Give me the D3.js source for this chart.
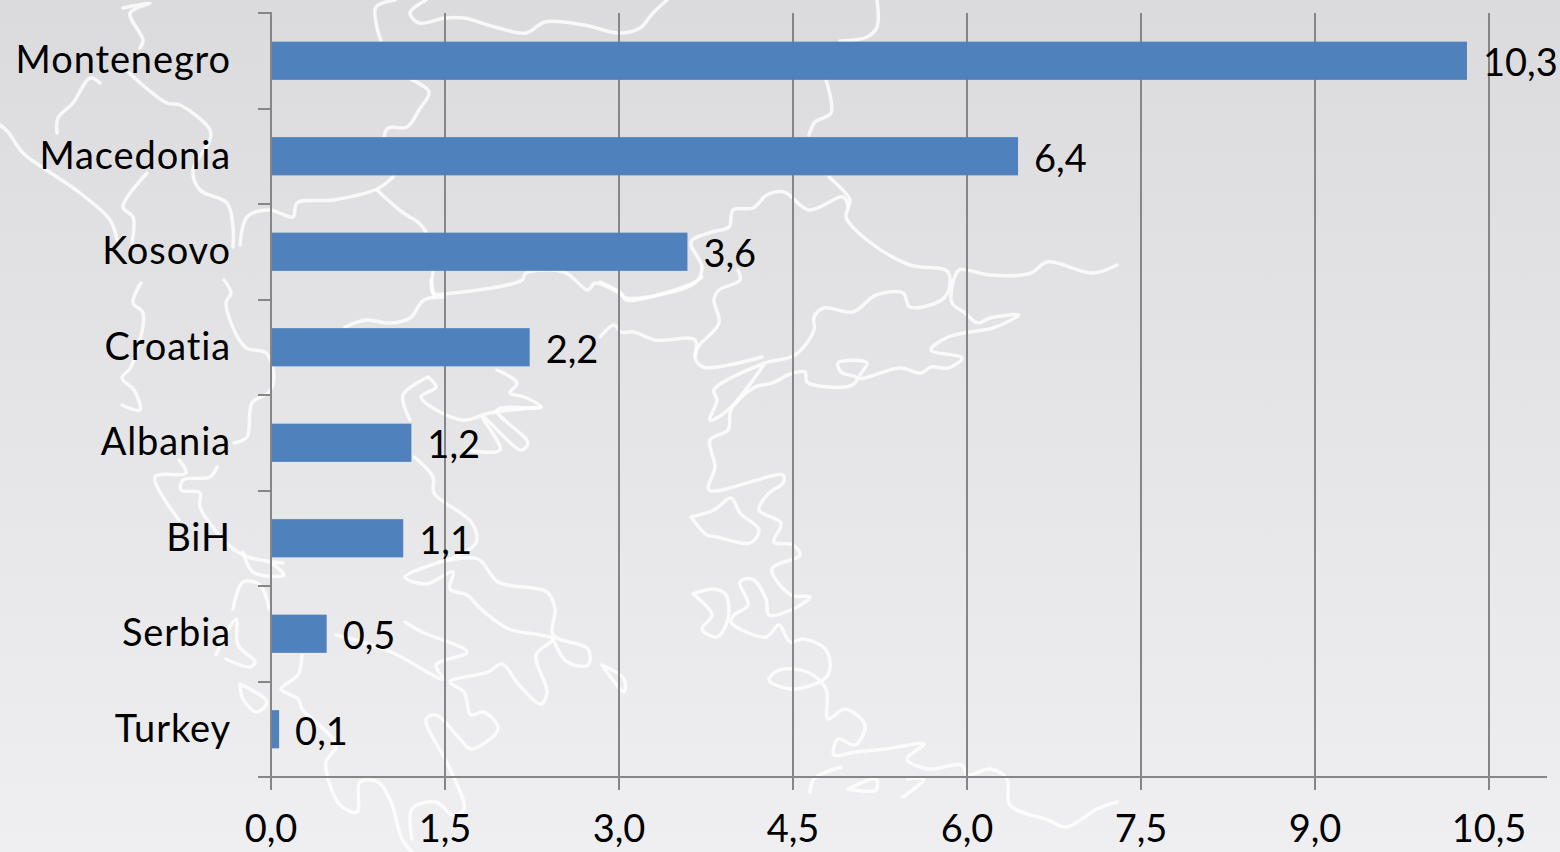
<!DOCTYPE html>
<html>
<head>
<meta charset="utf-8">
<script src="https://d3js.org/d3.v7.min.js"></script>
<style>
  html, body { margin: 0; padding: 0; overflow: hidden; }
  svg { display: block; }
  text { font-family: Lato, "Open Sans", sans-serif; fill: #000; }
  .axis path, .axis line { stroke: #868686; stroke-width: 2; shape-rendering: crispEdges; }
  .grid line { stroke: #868686; stroke-width: 2; shape-rendering: crispEdges; }
  .map path { fill: none; stroke: #fff; stroke-width: 3.5; stroke-opacity: .8; stroke-linejoin: round; stroke-linecap: round; }
</style>
</head>
<body>
<svg id="chart" width="1560" height="852"></svg>
<script>
var categories = ["Montenegro", "Macedonia", "Kosovo", "Croatia", "Albania", "BiH", "Serbia", "Turkey"];
var values = [10.31, 6.44, 3.59, 2.23, 1.21, 1.14, 0.48, 0.07];
var xTicks = [0, 1.5, 3, 4.5, 6, 7.5, 9, 10.5];

// white outline of the region behind the plot, traced by eye
var mapOutlines = [
  [[426,0],[410,13],[419,23],[445,18],[464,18],[495,27],[526,33],[545,22],[584,25],[619,33],[640,28],[653,13],[667,0]],
  [[395,0],[376,7],[376,23],[381,41]],
  [[412,80],[429,92],[419,110],[407,127],[388,128],[384,137]],
  [[393,177],[377,189],[333,200],[297,203],[293,217],[270,210],[247,217],[240,245]],
  [[377,190],[402,212],[419,223],[426,232]],
  [[433,272],[433,293],[453,293],[522,280],[526,273],[564,272],[588,290],[595,283],[619,293],[626,298],[695,283],[702,267],[691,242],[712,232],[729,227],[733,210],[753,208],[767,195],[784,192],[809,210],[843,197],[848,207],[846,217],[867,240],[910,265],[948,272],[945,297],[910,307],[903,293],[876,295],[853,312],[824,308],[814,317],[814,330],[795,355],[765,363],[714,390],[717,400],[710,420],[728,410],[765,363]],
  [[762,357],[703,367],[695,357],[698,347],[719,323],[714,300],[719,290],[740,280],[738,270]],
  [[600,337],[614,325],[621,332],[634,332],[655,340],[695,340],[695,357]],
  [[600,282],[621,293],[626,300],[693,283],[702,277]],
  [[1117,265],[1093,273],[1047,262],[1031,273],[990,275],[967,270],[959,270],[952,287],[952,303],[965,313],[978,323],[990,318],[1019,315],[993,328],[983,330],[948,337],[931,350],[962,358],[948,368],[931,367],[921,373],[900,368],[859,378],[867,363],[838,363],[841,372],[857,378],[852,385],[828,387],[807,382],[805,372],[793,373],[772,383],[755,387],[731,410],[728,430],[710,440],[715,467],[709,490],[783,475],[783,483],[769,493],[759,510],[781,523],[774,542],[793,545],[800,555],[772,569],[791,595],[810,597],[793,609],[769,615],[766,599],[752,579],[740,582],[748,605],[734,615],[731,622],[766,637],[779,625],[790,642],[803,639],[826,650],[828,675],[793,689],[769,680],[779,670],[807,672],[826,689],[828,719],[845,709],[865,725],[855,745],[838,739],[834,755],[855,752],[886,749],[924,744],[907,759],[928,769],[962,765],[967,775],[990,769],[1007,779],[1010,805],[1048,820],[1066,827],[1097,809],[1117,802]],
  [[691,517],[714,510],[731,498],[740,513],[759,530],[750,543],[717,537],[707,535],[691,517]],
  [[693,594],[714,589],[726,595],[728,619],[717,637],[702,629],[712,615],[693,594]],
  [[810,792],[814,779],[841,767]],
  [[848,789],[876,779],[876,790],[848,789]],
  [[903,797],[924,779],[907,779]],
  [[877,0],[877,27],[867,37],[840,41]],
  [[826,80],[831,113],[815,122],[809,135]],
  [[829,177],[850,200],[848,207]],
  [[123,8],[150,3],[130,13],[143,40],[140,48]],
  [[128,72],[167,103],[180,105],[210,130],[210,140],[193,170],[200,190],[227,203],[233,227],[233,247]],
  [[100,83],[90,78],[73,103],[58,118],[57,133]],
  [[0,125],[8,132],[23,153],[57,177],[80,193],[110,220],[117,240]],
  [[147,173],[123,207],[133,217],[132,243]],
  [[141,283],[133,303],[143,313],[131,367],[122,378],[134,390],[140,410],[122,405]],
  [[224,280],[231,293],[226,303],[245,347],[266,353],[274,377],[269,392],[252,403],[247,437],[234,443]],
  [[179,460],[186,473],[155,477],[179,520]],
  [[217,467],[210,477],[183,480],[181,490],[200,493],[200,507],[231,547],[248,557],[283,563]],
  [[445,297],[424,300],[410,318],[390,323],[366,320],[345,327]],
  [[431,280],[434,297]],
  [[428,377],[403,395],[410,420]],
  [[428,377],[436,387],[421,397],[462,420],[490,413],[541,407]],
  [[497,370],[517,383],[510,393],[524,397],[541,407],[497,410],[528,443],[521,450],[483,417],[500,450],[466,450]],
  [[414,457],[433,477],[434,493],[472,523],[476,543],[448,560]],
  [[243,552],[253,572],[284,575],[270,562]],
  [[233,609],[243,582],[260,585],[269,609]],
  [[240,684],[267,702],[257,712],[243,699],[240,684]],
  [[216,655],[236,619],[238,645],[255,662],[250,667],[226,659]],
  [[302,655],[298,675],[281,689],[298,699],[302,709],[336,745],[326,762],[329,782],[340,805],[357,812],[360,782],[378,782],[391,802],[402,839],[412,852]],
  [[412,839],[412,809],[436,802],[453,815],[464,809],[450,769],[426,719],[436,715],[460,739],[471,749],[498,729],[484,712],[471,715],[464,692],[450,682],[488,672],[502,664],[519,685],[541,704],[547,692],[536,655],[553,639],[540,635],[509,629],[481,609],[467,595],[450,589],[453,572],[426,584],[405,577],[440,562]],
  [[440,562],[478,559],[498,582],[547,592],[555,609],[553,635],[588,649],[588,665],[567,662],[553,639]],
  [[602,665],[624,679],[624,692],[602,665]],
  [[336,635],[391,652],[443,679],[436,665],[467,652],[422,632],[405,622]]
];

var margin = { left: 271, top: 13, right: 13, bottom: 75 },
    width = 1560 - margin.left - margin.right,
    height = 852 - margin.top - margin.bottom;

var svg = d3.select("#chart");

var defs = svg.append("defs");

var grad = defs.append("linearGradient")
    .attr("id", "bg")
    .attr("x1", 0).attr("y1", 0).attr("x2", 0).attr("y2", 1);
grad.append("stop").attr("offset", "0%").attr("stop-color", "#dbdbdd");
grad.append("stop").attr("offset", "100%").attr("stop-color", "#efeff1");

defs.append("filter")
    .attr("id", "soft")
  .append("feGaussianBlur")
    .attr("stdDeviation", 0.6);

svg.append("rect")
    .attr("width", 1560)
    .attr("height", 852)
    .attr("fill", "url(#bg)");

var outline = d3.line().curve(d3.curveCatmullRom.alpha(0.5));

svg.append("g")
    .attr("class", "map")
    .attr("filter", "url(#soft)")
  .selectAll("path")
    .data(mapOutlines)
    .enter()
    .append("path")
    .attr("d", outline);

var g = svg.append("g")
    .attr("transform", "translate(" + margin.left + "," + margin.top + ")");

var x = d3.scaleLinear().domain([0, 11]).range([0, width]);
var y = d3.scaleBand().domain(categories).range([0, height]).paddingInner(0.6).paddingOuter(0.3);
// tick marks of the category axis sit between the bands
var yEdge = d3.scaleLinear().domain([0, categories.length]).range([0, height]);

var comma = d3.formatLocale({ decimal: ",", thousands: ".", grouping: [3], currency: ["", ""] }).format(".1f");

g.append("g")
    .attr("class", "grid")
  .selectAll("line")
    .data(xTicks.slice(1))
    .enter()
    .append("line")
    .attr("x1", function(d) { return x(d); })
    .attr("x2", function(d) { return x(d); })
    .attr("y1", 0)
    .attr("y2", height);

g.selectAll(".bar")
    .data(values)
    .enter()
    .append("rect")
    .attr("class", "bar")
    .attr("x", 0)
    .attr("y", function(d, i) { return y(categories[i]); })
    .attr("width", function(d) { return x(d); })
    .attr("height", y.bandwidth())
    .attr("fill", "#4f81bd");

g.selectAll(".value")
    .data(values)
    .enter()
    .append("text")
    .attr("class", "value")
    .attr("x", function(d) { return x(d) + 16; })
    .attr("y", function(d, i) { return y(categories[i]) + y.bandwidth() / 2 + 2; })
    .attr("dy", ".35em")
    .style("font-size", "38px")
    .text(function(d) { return comma(d); });

g.append("g")
    .attr("class", "axis")
    .call(d3.axisLeft(yEdge).offset(0).ticks(categories.length).tickSize(13).tickSizeOuter(13).tickFormat(""))
    .call(function(a) { a.selectAll("text").remove(); });

g.append("g")
    .call(d3.axisLeft(y).offset(0).tickSize(0).tickPadding(40))
    .call(function(a) { a.select(".domain").remove(); })
    .selectAll("text")
    .attr("dy", ".33em")
    .style("font-size", "38px")
    .style("letter-spacing", "0.9px");

g.append("g")
    .attr("class", "axis")
    .attr("transform", "translate(0," + height + ")")
    .call(d3.axisBottom(x).offset(0).tickValues(xTicks).tickSize(13).tickSizeOuter(0).tickPadding(25).tickFormat(comma))
    .selectAll("text")
    .style("font-size", "38px");
</script>
</body>
</html>
